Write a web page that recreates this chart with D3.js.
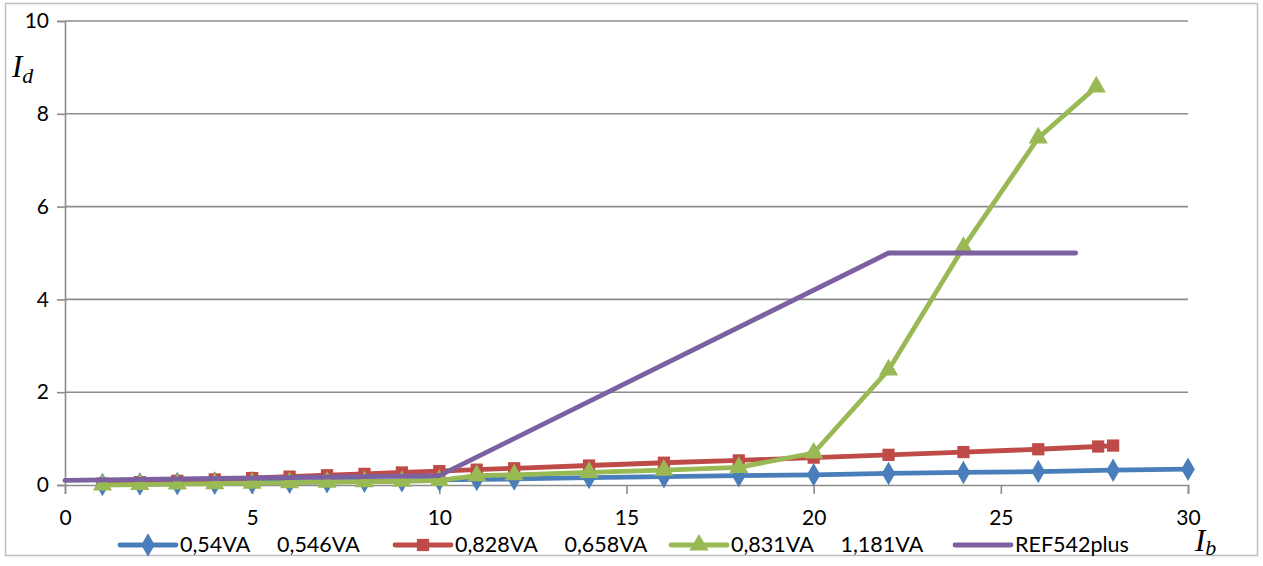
<!DOCTYPE html>
<html>
<head>
<meta charset="utf-8">
<script src="https://cdn.jsdelivr.net/npm/d3@7"></script>
<style>
  html, body { margin: 0; padding: 0; background: #ffffff; }
  svg { display: block; }
</style>
</head>
<body>
<svg id="chart" width="1263" height="566"></svg>
<script>
// Differential current Id against bias current Ib
const xTicks = [0, 5, 10, 15, 20, 25, 30];
const yTicks = [0, 2, 4, 6, 8, 10];

const seriesNames = ["0,54VA     0,546VA", "0,828VA     0,658VA", "0,831VA     1,181VA", "REF542plus"];
const seriesColors = ["#4A7EBB", "#BE4B48", "#98B954", "#7D60A0"];
const seriesMarkers = ["diamond", "square", "triangle", "none"];

const ibBlue = [1, 2, 3, 4, 5, 6, 7, 8, 9, 10, 11, 12, 14, 16, 18, 20, 22, 24, 26, 28, 30];
const idBlue = [0.01, 0.02, 0.03, 0.04, 0.05, 0.06, 0.07, 0.08, 0.09, 0.11, 0.12, 0.13, 0.16, 0.18, 0.20, 0.22, 0.25, 0.27, 0.29, 0.32, 0.34];

const ibRed = [1, 2, 3, 4, 5, 6, 7, 8, 9, 10, 11, 12, 14, 16, 18, 20, 22, 24, 26, 27.6, 28];
const idRed = [0.03, 0.06, 0.09, 0.12, 0.15, 0.18, 0.21, 0.24, 0.27, 0.30, 0.33, 0.36, 0.42, 0.48, 0.53, 0.59, 0.65, 0.71, 0.77, 0.83, 0.85];

const ibGreen = [1, 2, 3, 4, 5, 6, 7, 8, 9, 10, 11, 12, 14, 16, 18, 20, 22, 24, 26, 27.55];
const idGreen = [0.0, 0.01, 0.02, 0.03, 0.04, 0.05, 0.06, 0.07, 0.08, 0.10, 0.20, 0.22, 0.27, 0.32, 0.38, 0.69, 2.48, 5.12, 7.48, 8.58];

const ibRef = [0, 10, 22, 27];
const idRef = [0.1, 0.2, 5, 5];

const xsAll = [ibBlue, ibRed, ibGreen, ibRef];
const ysAll = [idBlue, idRed, idGreen, idRef];

const svg = d3.select("#chart");
const plot = { left: 65, right: 1188, top: 21, bottom: 485 };
const labelFont = "Lato, 'Open Sans', sans-serif";

// outer chart frame
svg.append("rect")
  .attr("x", 5.5).attr("y", 3.5)
  .attr("width", 1252).attr("height", 552)
  .attr("fill", "#ffffff")
  .attr("stroke", "#bfbfbf").attr("stroke-width", 1.5);

const x = d3.scaleLinear().domain([0, 30]).range([plot.left, plot.right]);
const y = d3.scaleLinear().domain([0, 10]).range([plot.bottom, plot.top]);

const gridColor = "#8c8c8c";

// horizontal gridlines
svg.append("g")
  .selectAll("line")
  .data(yTicks.filter(v => v > 0))
  .join("line")
  .attr("x1", plot.left).attr("x2", plot.right)
  .attr("y1", d => y(d)).attr("y2", d => y(d))
  .attr("stroke", gridColor).attr("stroke-width", 1.6);

// y axis
const yAxis = svg.append("g")
  .attr("transform", `translate(${plot.left},0)`)
  .call(d3.axisLeft(y).tickValues(yTicks).tickSize(8).tickPadding(8).tickFormat(d3.format("d")));
yAxis.select(".domain").attr("stroke", gridColor).attr("stroke-width", 1.6);
yAxis.selectAll(".tick line").attr("stroke", gridColor).attr("stroke-width", 1.6);
yAxis.selectAll("text")
  .attr("font-family", labelFont)
  .attr("font-size", 21).attr("fill", "#000");

// x axis
const xAxis = svg.append("g")
  .attr("transform", `translate(0,${plot.bottom})`)
  .call(d3.axisBottom(x).tickValues(xTicks).tickSize(9).tickPadding(16).tickFormat(d3.format("d")));
xAxis.select(".domain").attr("stroke", gridColor).attr("stroke-width", 1.6);
xAxis.selectAll(".tick line").attr("stroke", gridColor).attr("stroke-width", 1.6);
xAxis.selectAll("text")
  .attr("font-family", labelFont)
  .attr("font-size", 21).attr("fill", "#000");

// series lines with markers
const line = d3.line().x(d => x(d[0])).y(d => y(d[1]));
const seriesData = xsAll.map((xs, i) => xs.map((v, j) => [v, ysAll[i][j]]));

const symbolOf = {
  diamond: d3.symbol().type(d3.symbolDiamond).size(160),
  square: d3.symbol().type(d3.symbolSquare).size(150),
  triangle: d3.symbol().type(d3.symbolTriangle).size(160)
};

seriesData.forEach((pts, i) => {
  const g = svg.append("g");
  g.append("path")
    .datum(pts)
    .attr("d", line)
    .attr("fill", "none")
    .attr("stroke", seriesColors[i])
    .attr("stroke-width", 4.8)
    .attr("stroke-linejoin", "round")
    .attr("stroke-linecap", "round");
  if (seriesMarkers[i] !== "none") {
    g.selectAll("path.mk")
      .data(pts)
      .join("path")
      .attr("class", "mk")
      .attr("d", symbolOf[seriesMarkers[i]]())
      .attr("transform", d => `translate(${x(d[0])},${y(d[1])})`)
      .attr("fill", seriesColors[i]);
  }
});

// axis titles
const titleFont = "'Liberation Serif', 'DejaVu Serif', serif";
const idLabel = svg.append("text")
  .attr("x", 12).attr("y", 77)
  .attr("font-family", titleFont).attr("font-style", "italic")
  .attr("font-size", 31).attr("fill", "#000");
idLabel.append("tspan").text("I");
idLabel.append("tspan").attr("font-size", 22).attr("dy", 6).text("d");

const ibLabel = svg.append("text")
  .attr("x", 1195).attr("y", 551)
  .attr("font-family", titleFont).attr("font-style", "italic")
  .attr("font-size", 31).attr("fill", "#000");
ibLabel.append("tspan").text("I");
ibLabel.append("tspan").attr("font-size", 22).attr("dy", 4).text("b");

// legend
const legendX = [120, 395, 671, 955];
const legY = 545;
legendX.forEach((lx, i) => {
  const g = svg.append("g");
  g.append("line")
    .attr("x1", lx).attr("x2", lx + 56)
    .attr("y1", legY).attr("y2", legY)
    .attr("stroke", seriesColors[i]).attr("stroke-width", 4.8)
    .attr("stroke-linecap", "round");
  if (seriesMarkers[i] !== "none") {
    g.append("path")
      .attr("d", symbolOf[seriesMarkers[i]]())
      .attr("transform", `translate(${lx + 28},${legY})`)
      .attr("fill", seriesColors[i]);
  }
  g.append("text")
    .attr("x", lx + 60).attr("y", legY + 7)
    .attr("font-family", labelFont)
    .attr("font-size", 21.5).attr("fill", "#000")
    .attr("xml:space", "preserve")
    .style("white-space", "pre")
    .text(seriesNames[i]);
});
</script>
</body>
</html>
